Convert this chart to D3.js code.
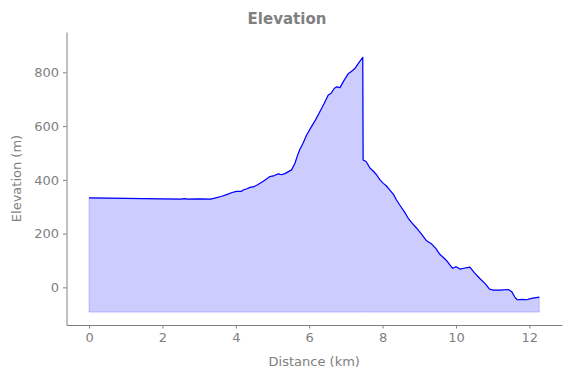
<!DOCTYPE html>
<html>
<head>
<meta charset="utf-8">
<script src="https://cdn.jsdelivr.net/npm/d3@7"></script>
<style>
  body { margin: 0; background: white; }
  text { font-family: "DejaVu Sans", sans-serif; fill: #808080; }
</style>
</head>
<body>
<svg></svg>
<script>
// 데이터 (거리 km, 고도 m)
const distance = [
  0, 0.5, 1.0, 1.5, 2.0, 2.5, 2.6, 2.7, 3.0, 3.3, 3.4, 3.6, 3.75, 3.9, 4.02, 4.15,
  4.2, 4.3, 4.39, 4.5, 4.57, 4.75, 4.93, 5.05, 5.16, 5.25, 5.35, 5.52, 5.61, 5.68,
  5.75, 5.83, 5.93, 6.05, 6.18, 6.29, 6.4, 6.52, 6.6, 6.68, 6.75, 6.84, 6.95, 7.07,
  7.15, 7.25, 7.35, 7.46, 7.47, 7.55, 7.66, 7.75, 7.84, 7.93, 8.02, 8.1, 8.2, 8.3,
  8.38, 8.5, 8.6, 8.7, 8.8, 8.93, 9.05, 9.2, 9.34, 9.45, 9.56, 9.65, 9.74, 9.84,
  9.91, 10.0, 10.11, 10.25, 10.38, 10.5, 10.65, 10.79, 10.91, 11.02, 11.2, 11.43,
  11.52, 11.6, 11.67, 11.8, 11.93, 12.06, 12.27
];
const elevation = [
  333, 332, 331, 330, 329, 328, 330, 328, 329, 328, 331, 338, 345, 353, 357, 357,
  362, 367, 372, 375, 380, 395, 412, 416, 422, 419, 424, 437, 461, 490,
  515, 535, 567, 595, 625, 653, 682, 716, 722, 740, 746, 743, 770, 796,
  803, 815, 835, 856, 474, 468, 443, 432, 418, 400, 387, 378, 362, 345,
  325, 300, 280, 257, 240, 220, 200, 173, 161, 145, 123, 112, 100, 83,
  71, 77, 68, 72, 75, 55, 33, 15, -6, -10, -10, -8,
  -16, -35, -46, -45, -46, -41, -36
];
const fillBase = -92;
const xTicks = [0, 2, 4, 6, 8, 10, 12];
const yTicks = [0, 200, 400, 600, 800];

const points = distance.map((d, i) => ({ d: d, e: elevation[i] }));

// SVG 설정
const width = 571;
const height = 378;
const mLeft = 66.5, mRight = 562, mTop = 32, mBottom = 325;
const GRAY = '#808080';

const svg = d3.select("svg")
  .attr("width", width)
  .attr("height", height);

const x = d3.scaleLinear().domain([-0.614, 12.89]).range([mLeft, mRight]);
const y = d3.scaleLinear().domain([-140, 950]).range([mBottom, mTop]);

// 채우기 영역
const area = d3.area()
  .x(p => x(p.d))
  .y0(y(fillBase))
  .y1(p => y(p.e));

svg.append("path")
  .datum(points)
  .attr("d", area)
  .attr("fill", "blue")
  .attr("fill-opacity", 0.2)
  .attr("stroke", "blue")
  .attr("stroke-opacity", 0.2)
  .attr("stroke-width", 1);

// 고도 선
const line = d3.line()
  .x(p => x(p.d))
  .y(p => y(p.e));

svg.append("path")
  .datum(points)
  .attr("d", line)
  .attr("fill", "none")
  .attr("stroke", "blue")
  .attr("stroke-width", 1.2)
  .attr("stroke-linejoin", "round");

// 축
const xAxis = svg.append("g")
  .attr("transform", `translate(0,${mBottom})`)
  .call(d3.axisBottom(x).tickValues(xTicks).tickSize(3.5).tickPadding(4).tickSizeOuter(0));

const yAxis = svg.append("g")
  .attr("transform", `translate(${mLeft},0)`)
  .call(d3.axisLeft(y).tickValues(yTicks).tickSize(3.5).tickPadding(4).tickSizeOuter(0));

[xAxis, yAxis].forEach(g => {
  g.select(".domain").attr("stroke", GRAY);
  g.selectAll(".tick line").attr("stroke", GRAY);
  g.selectAll(".tick text")
    .attr("fill", GRAY)
    .style("font-size", "13px")
    .style("font-family", "DejaVu Sans, sans-serif");
});

// 축 제목
svg.append("text")
  .attr("x", (mLeft + mRight) / 2)
  .attr("y", 366)
  .attr("text-anchor", "middle")
  .style("font-size", "13px")
  .text("Distance (km)");

svg.append("text")
  .attr("transform", `translate(21,${(mTop + mBottom) / 2}) rotate(-90)`)
  .attr("text-anchor", "middle")
  .style("font-size", "13px")
  .text("Elevation (m)");

// 제목
svg.append("text")
  .attr("x", 287)
  .attr("y", 24)
  .attr("text-anchor", "middle")
  .style("font-size", "15px")
  .style("font-weight", "bold")
  .text("Elevation");
</script>
</body>
</html>
